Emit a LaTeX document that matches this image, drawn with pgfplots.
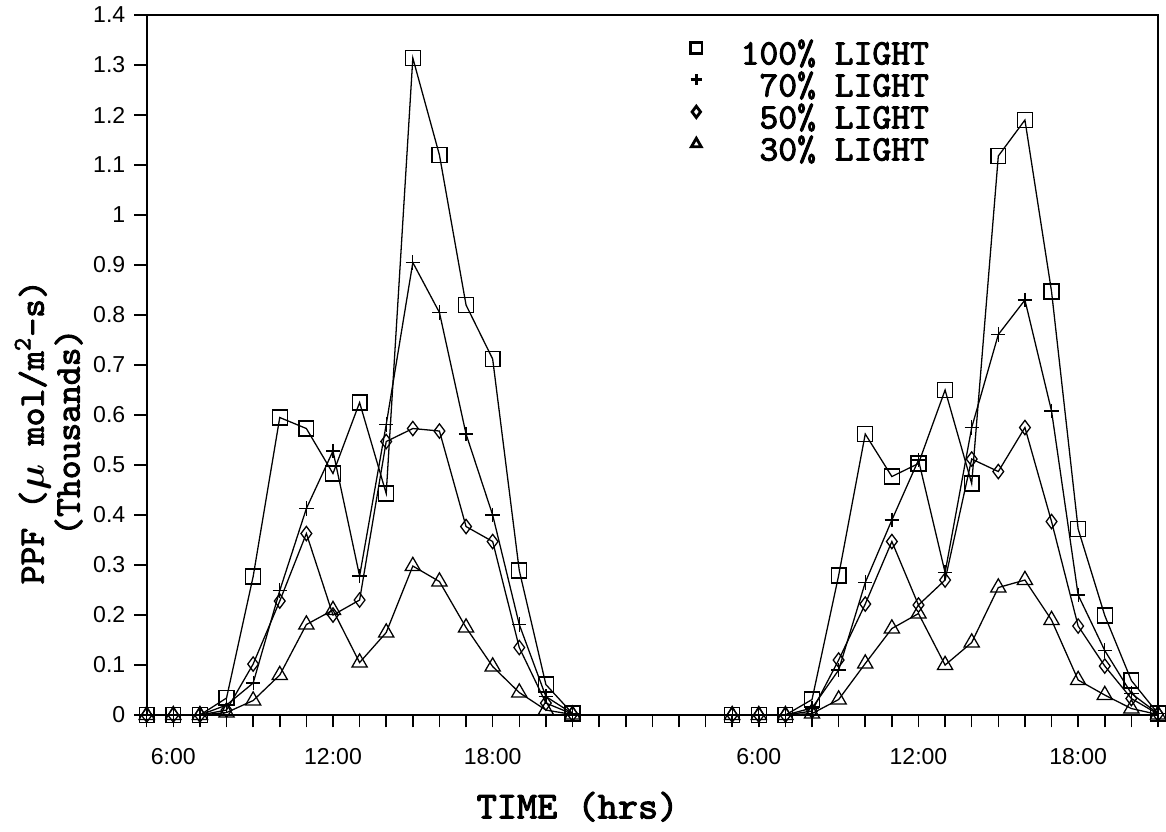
\documentclass[border=0pt]{standalone}
\usepackage{amsmath}
\usepackage{fontspec}
\setsansfont{Liberation Sans}
\newfontfamily\courb[FakeBold=2.5]{lmmono10-regular.otf}
\usepackage{pgfplots}
\pgfplotsset{compat=1.18}
\usetikzlibrary{calc}

\begin{document}
\begin{tikzpicture}
\begin{axis}[
  scale only axis, width=13.877cm, height=9.606cm,
  xmin=0, xmax=38, ymin=0, ymax=1.4,
  unbounded coords=jump,
  xtick={0,...,38},
  xticklabels={,6:00,,,,,,12:00,,,,,,18:00,,,,,,,,,,6:00,,,,,,12:00,,,,,,18:00,,,},
  ytick={0,0.1,0.2,0.3,0.4,0.5,0.6,0.7,0.8,0.9,1,1.1,1.2,1.3,1.4},
  tick align=outside, xtick pos=left, ytick pos=left,
  major tick length=0.17cm,
  tick style={black,line width=0.6pt},
  axis line style={line width=0.7pt},
  tick label style={font=\sffamily\fontsize{9}{10}\selectfont},
  xticklabel style={yshift=-0.16cm},
  /pgf/number format/assume math mode=true,
  yticklabel style={/pgf/number format/fixed},
  every axis x label/.style={at={(axis description cs:0.426,-0.131)},anchor=center,
    font=\courb\fontsize{15}{15}\selectfont},
  every axis y label/.style={at={(axis description cs:-0.097,0.404)},rotate=90,anchor=center,
    align=center,font=\courb\fontsize{14}{14}\selectfont},
  xlabel={TIME (hrs)},
  ylabel={PPF ($\boldsymbol{\mu}$ mol/m\textsuperscript{2}-s)\\[0pt](Thousands)},
  every axis plot/.append style={black,line width=0.5pt,mark options={solid,line width=0.5pt}},
  legend cell align=right,
  legend style={at={(0.774,0.963)},anchor=north east,draw=none,fill=none,inner sep=0pt,
    font=\courb\fontsize{14}{14}\selectfont,
    nodes={inner sep=0pt,text height=9pt,text depth=0pt},row sep=3.5pt},
  legend image code/.code={\draw[mark repeat=2,mark phase=2,#1,mark size=2.2pt,draw opacity=0,
      every mark/.append style={draw opacity=1,line width=1.1pt}]
    plot coordinates {(0cm,0.07cm) (0.3cm,0.07cm) (0.9cm,0.07cm)};},
]
% 100% light
\addplot[mark=square,mark size=2.9pt] coordinates {
(0,0)(1,0)(2,0)(3,0.034)(4,0.277)(5,0.595)(6,0.573)(7,0.483)(8,0.625)(9,0.443)
(10,1.314)(11,1.12)(12,0.82)(13,0.712)(14,0.289)(15,0.061)(16,0.003)
(19,nan)
(22,0)(23,0)(24,0)(25,0.031)(26,0.279)(27,0.562)(28,0.477)(29,0.503)(30,0.65)
(31,0.463)(32,1.118)(33,1.19)(34,0.847)(35,0.372)(36,0.199)(37,0.069)(38,0.003)};
% 70% light
\addplot[mark=+,mark size=2.8pt] coordinates {
(0,0)(1,0)(2,0)(3,0.02)(4,0.064)(5,0.249)(6,0.413)(7,0.528)(8,0.278)(9,0.581)
(10,0.905)(11,0.805)(12,0.562)(13,0.40)(14,0.181)(15,0.037)(16,0.003)
(19,nan)
(22,0)(23,0)(24,0)(25,0.014)(26,0.09)(27,0.265)(28,0.39)(29,0.51)(30,0.285)
(31,0.575)(32,0.761)(33,0.83)(34,0.608)(35,0.24)(36,0.129)(37,0.043)(38,0.003)};
% 50% light
\addplot[mark=diamond,mark size=2.8pt] coordinates {
(0,0)(1,0)(2,0)(3,0.01)(4,0.102)(5,0.228)(6,0.363)(7,0.200)(8,0.23)(9,0.547)
(10,0.573)(11,0.568)(12,0.377)(13,0.347)(14,0.135)(15,0.024)(16,0.002)
(19,nan)
(22,0)(23,0)(24,0)(25,0.008)(26,0.11)(27,0.222)(28,0.347)(29,0.22)(30,0.27)
(31,0.512)(32,0.487)(33,0.575)(34,0.387)(35,0.178)(36,0.098)(37,0.033)(38,0.002)};
% 30% light
\addplot[mark=triangle,mark size=3.4pt] coordinates {
(0,0)(1,0)(2,0)(3,0.005)(4,0.029)(5,0.080)(6,0.181)(7,0.21)(8,0.105)(9,0.165)
(10,0.298)(11,0.267)(12,0.175)(13,0.097)(14,0.045)(15,0.01)(16,0.001)
(19,nan)
(22,0)(23,0)(24,0)(25,0.003)(26,0.031)(27,0.103)(28,0.173)(29,0.203)(30,0.10)
(31,0.145)(32,0.255)(33,0.27)(34,0.19)(35,0.07)(36,0.04)(37,0.013)(38,0.001)};
\legend{100\% LIGHT,70\% LIGHT,50\% LIGHT,30\% LIGHT}
\end{axis}
\pgfresetboundingbox
\path[use as bounding box] ($(current axis.south west)+(-2.013,-1.592)$) rectangle ($(current axis.north east)+(0.11,0.206)$);
\end{tikzpicture}
\end{document}
